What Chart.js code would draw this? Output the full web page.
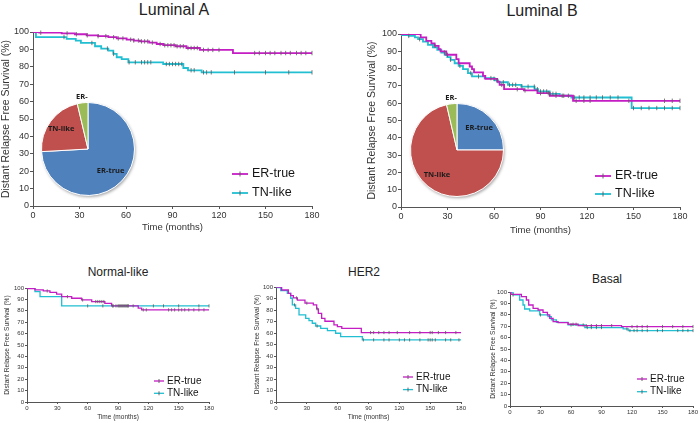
<!DOCTYPE html>
<html>
<head>
<meta charset="utf-8">
<script src="https://cdn.jsdelivr.net/npm/chart.js@4.4.0/dist/chart.umd.min.js"></script>
<style>
body { margin: 0; background: #fff; }
#fig { position: relative; width: 700px; height: 423px; overflow: hidden; background: #fff;
       font-family: "Liberation Sans", Arial, sans-serif; }
canvas { position: absolute; }
.pie { z-index: 2; }
.titulo { position: absolute; transform: translate(-50%, -50%); white-space: nowrap; color: #222; }
</style>
</head>
<body>
<div id="fig">
  <div class="titulo" style="left:174px; top:10px; font-size:16px;">Luminal A</div>
  <div class="titulo" style="left:542px; top:11px; font-size:16px;">Luminal B</div>
  <div class="titulo" style="left:118px; top:272px; font-size:12px;">Normal-like</div>
  <div class="titulo" style="left:364px; top:272px; font-size:12px;">HER2</div>
  <div class="titulo" style="left:607px; top:279px; font-size:12px;">Basal</div>
  <canvas id="kmLumA"></canvas>
  <canvas id="kmLumB"></canvas>
  <canvas id="kmNormal"></canvas>
  <canvas id="kmHer2"></canvas>
  <canvas id="kmBasal"></canvas>
  <canvas id="pieLumA" class="pie"></canvas>
  <canvas id="pieLumB" class="pie"></canvas>
</div>
<script>
/* Ejes y etiquetas */
const xTicks = [0, 30, 60, 90, 120, 150, 180];
const yTicks = [0, 10, 20, 30, 40, 50, 60, 70, 80, 90, 100];
const etiquetas = ['ER-true', 'TN-like'];
const pieLabels = ['ER-true', 'TN-like', 'ER-'];

/* Tortas (porcentaje de pacientes) */
const pieLumA = [74.1, 22.2, 3.7];
const pieLumB = [25.0, 71.4, 3.6];

/* Curvas de Kaplan-Meier: tiempo (meses) y supervivencia (%) tras cada evento */
const lumA_er_t = [0, 4, 18.5, 27, 34.6, 42, 48.6, 54, 60.4, 65, 69, 75, 79.8, 84, 92, 99, 107.7, 129, 180];
const lumA_er_s = [100, 99.6, 99.2, 98.7, 98.1, 97.6, 97.0, 96.3, 95.6, 95.1, 94.6, 93.9, 93.1, 92.4, 91.8, 90.8, 89.7, 87.9, 87.9];
const lumA_er_c = [5, 22, 28, 35, 42, 47, 52, 55, 58, 63, 65, 68, 70, 72, 74, 77, 82, 85, 87, 89, 91, 93, 95, 97, 100, 102, 104, 106, 110, 113, 116, 120, 143, 146, 150, 153, 156, 160, 163, 166, 170, 173, 176, 180];
const lumA_tn_t = [0, 1.9, 21.7, 27.6, 30.9, 40, 44, 48.6, 51.8, 54, 57.2, 61.5, 84, 97, 100, 108.8, 180];
const lumA_tn_s = [100, 97.1, 96.0, 95.0, 93.7, 91.8, 90.5, 89.3, 87.4, 85.5, 84.4, 82.6, 81.6, 79.3, 78.0, 76.8, 76.8];
const lumA_tn_c = [20, 38, 48, 52, 62, 66, 70, 72, 74, 76, 86, 88, 90, 92, 94, 96, 102, 104, 110, 112, 115, 130, 150, 165, 180];

const lumB_er_t = [0, 12.7, 16.3, 19.6, 21.7, 24.3, 25.5, 29.2, 35.7, 37.2, 44.3, 45.8, 47.1, 52.9, 54.4, 62.1, 63.6, 66.5, 79.3, 88, 96, 111, 180];
const lumB_er_s = [100, 98.1, 96.0, 94.6, 93.1, 91.2, 89.9, 88.0, 85.5, 83.1, 81.2, 79.7, 77.8, 75.8, 74.1, 72.5, 70.6, 68.1, 67.4, 65.8, 64.3, 61.4, 61.4];
const lumB_er_c = [22, 30, 60, 65, 75, 80, 90, 95, 100, 105, 113, 118, 122, 147, 170, 175, 180];
const lumB_tn_t = [0, 0.5, 5, 9, 11, 14.2, 17.4, 20.6, 23.4, 26, 28.2, 29.9, 32, 34.6, 37.2, 40, 43.2, 45.8, 54, 60.4, 62.6, 69, 77.6, 86.2, 88.4, 95.9, 102.4, 109.9, 148.8, 180];
const lumB_tn_s = [100, 99.4, 98.9, 98.1, 97.0, 95.6, 93.7, 92.3, 90.8, 89.3, 88.0, 86.6, 85.1, 83.1, 81.6, 79.7, 77.4, 75.5, 74.5, 73.2, 72.1, 70.6, 69.6, 68.1, 66.8, 65.4, 64.3, 63.3, 57.2, 57.2];
const lumB_tn_c = [5, 12, 28, 32, 38, 45, 50, 58, 62, 66, 70, 72, 74, 78, 82, 86, 88, 90, 92, 94, 96, 98, 100, 104, 108, 112, 115, 118, 122, 126, 130, 135, 140, 150, 155, 160, 165, 170, 175, 180];

const norm_er_t = [0, 1, 7.9, 16.1, 22.7, 29.3, 34.3, 44.2, 54, 64, 77, 83.7, 110, 113.4, 180];
const norm_er_s = [100, 99.4, 98.3, 97.4, 96.2, 94.7, 92.4, 91.0, 89.5, 88.1, 86.6, 84.3, 82.3, 80.8, 80.8];
const norm_er_c = [20, 40, 55, 68, 70, 72, 74, 76, 85, 88, 90, 91, 92, 93, 94, 95, 96, 97, 98, 99, 100, 105, 115, 118, 140, 143, 146, 150, 153, 156, 160, 165, 170, 175];
const norm_tn_t = [0, 7.9, 12.9, 34.3, 180];
const norm_tn_s = [100, 96.8, 92.4, 84.3, 84.3];
const norm_tn_c = [60, 75, 85, 100, 125, 135, 150, 170, 180];

const her2_er_t = [0, 5.5, 12, 14.3, 16.9, 20.8, 28.2, 36.3, 39.6, 41.2, 44.4, 47.6, 56.4, 59.7, 64, 83, 180];
const her2_er_s = [100, 97.4, 94.5, 92.5, 90.5, 88.6, 86.0, 84.4, 81.0, 77.0, 72.8, 70.2, 67.0, 65.5, 64.0, 60.4, 60.4];
const her2_er_c = [20, 30, 40, 92, 95, 100, 105, 110, 118, 130, 140, 150, 152, 158, 165, 175];
const her2_tn_t = [0, 1, 4.5, 11, 14.3, 15.9, 19.1, 22.4, 28.9, 32.1, 35.3, 38.6, 43.5, 50, 58, 62.9, 84, 180];
const her2_tn_s = [100, 99.4, 96.8, 94.5, 90.2, 84.4, 81.5, 75.7, 72.8, 70.8, 68.5, 66.1, 64.1, 62.1, 59.8, 56.9, 54.0, 54.0];
const her2_tn_c = [18, 40, 85, 95, 105, 110, 120, 125, 130, 140, 148, 150, 152, 155, 165, 170, 178];

const bas_er_t = [0, 1, 11.2, 16.1, 18.4, 22.7, 27.6, 32.5, 36.8, 39.1, 42.4, 47.3, 57.1, 67, 109.7, 180];
const bas_er_s = [100, 98.0, 95.9, 93.0, 88.6, 85.7, 84.2, 82.2, 79.9, 76.9, 74.0, 73.1, 71.7, 70.5, 69.7, 69.7];
const bas_er_c = [62, 65, 75, 80, 85, 90, 100, 120, 125, 130, 135, 150, 160, 170, 180];
const bas_tn_t = [0, 3, 9.5, 12.8, 14.4, 19.4, 29.2, 37.4, 40.7, 45.6, 57.1, 73.6, 111.3, 116.3, 180];
const bas_tn_s = [100, 97.4, 93.0, 88.6, 85.1, 83.4, 79.9, 78.4, 75.5, 73.4, 71.1, 68.8, 67.6, 66.2, 66.2];
const bas_tn_c = [3, 30, 60, 72, 76, 80, 85, 90, 115, 118, 122, 125, 130, 135, 145, 150, 165, 170, 175, 180];

/* Estilo */
const familia = '"Liberation Sans", Arial, sans-serif';
const colorER = '#c41dc4';
const colorTN = '#21bfd1';
const colorCenso = '#5a5a5a';
Chart.defaults.font.family = familia;

function escalon(t, s) {
    return t.map((v, i) => ({x: v, y: s[i]}));
}

// marca de censura sobre la curva
function censura(c, t, s) {
    return c.map(v => {
        let k = 0;
        while (k + 1 < t.length && t[k + 1] <= v) k++;
        return {x: v, y: s[k]};
    });
}

// Leyenda dentro del área del gráfico
const leyendaKM = {
    id: 'leyendaKM',
    afterDraw(chart, args, o) {
        const ctx = chart.ctx;
        ctx.save();
        ctx.font = o.size + 'px ' + familia;
        ctx.textBaseline = 'middle';
        for (let i = 0; i < 2; i++) {
            const ds = chart.data.datasets[i];
            const y = o.y + i * o.gap;
            ctx.strokeStyle = ds.borderColor;
            ctx.lineWidth = ds.borderWidth;
            ctx.beginPath(); ctx.moveTo(o.x, y); ctx.lineTo(o.x + o.len, y); ctx.stroke();
            ctx.strokeStyle = colorCenso;
            ctx.lineWidth = 0.9;
            ctx.beginPath(); ctx.moveTo(o.x + o.len / 2, y - o.tick); ctx.lineTo(o.x + o.len / 2, y + o.tick); ctx.stroke();
            ctx.fillStyle = '#151515';
            ctx.fillText(ds.label, o.x + o.len + o.pad, y);
        }
        ctx.restore();
    }
};

function crearKM(id, c, er, tn, ley) {
    const cv = document.getElementById(id);
    cv.width = c.W; cv.height = c.H;
    cv.style.left = c.L + 'px'; cv.style.top = c.T + 'px';
    const anchoY = c.left - c.L;
    const altoX = c.T + c.H - c.bottom;
    const ejeComun = {
        grid: {drawOnChartArea: false, tickLength: c.tl, color: '#555', lineWidth: 1},
        border: {color: '#555', width: 1},
    };
    new Chart(cv, {
        type: 'line',
        data: {
            datasets: [
                {label: etiquetas[0], data: escalon(er.t, er.s), stepped: true, borderColor: colorER, borderWidth: c.lw, pointRadius: 0, fill: false, order: 1},
                {label: etiquetas[1], data: escalon(tn.t, tn.s), stepped: true, borderColor: colorTN, borderWidth: c.lw, pointRadius: 0, fill: false, order: 2},
                {data: censura(er.c, er.t, er.s), showLine: false, pointStyle: 'line', rotation: 90, pointRadius: c.cr, borderColor: colorCenso, borderWidth: 0.8, order: 0, clip: 4},
                {data: censura(tn.c, tn.t, tn.s), showLine: false, pointStyle: 'line', rotation: 90, pointRadius: c.cr, borderColor: colorCenso, borderWidth: 0.8, order: 0, clip: 4}
            ]
        },
        options: {
            responsive: false,
            animation: false,
            events: [],
            layout: {padding: {top: c.top - c.T, right: c.L + c.W - c.right, left: 0, bottom: 0}},
            plugins: {legend: {display: false}, tooltip: {enabled: false}, leyendaKM: ley},
            scales: {
                x: Object.assign({}, ejeComun, {
                    type: 'linear', min: 0, max: 180,
                    afterBuildTicks: s => { s.ticks = xTicks.map(v => ({value: v})); },
                    afterFit: s => { s.height = altoX; },
                    ticks: {font: {size: c.fs}, color: '#333', padding: 1, maxRotation: 0, autoSkip: false},
                    title: {display: c.xt, text: 'Time (months)', font: {size: c.xs}, color: '#333', padding: 0}
                }),
                y: Object.assign({}, ejeComun, {
                    type: 'linear', min: 0, max: 100,
                    afterBuildTicks: s => { s.ticks = yTicks.map(v => ({value: v})); },
                    afterFit: s => { s.width = anchoY; },
                    ticks: {font: {size: c.fs}, color: '#333', padding: 1, autoSkip: false},
                    title: {display: true, text: 'Distant Relapse Free Survival (%)', font: {size: c.ys}, color: '#333', padding: 0}
                })
            }
        },
        plugins: [leyendaKM]
    });
}

// sombra suave bajo la torta
const sombraPie = {
    id: 'sombraPie',
    beforeDatasetsDraw(chart) {
        const a = chart.getDatasetMeta(0).data[0];
        const ctx = chart.ctx;
        ctx.save();
        ctx.shadowColor = 'rgba(0,0,0,0.35)';
        ctx.shadowBlur = 3;
        ctx.shadowOffsetX = 1;
        ctx.shadowOffsetY = 1.5;
        ctx.fillStyle = '#fff';
        ctx.beginPath(); ctx.arc(a.x, a.y, a.outerRadius, 0, Math.PI * 2); ctx.fill();
        ctx.restore();
    }
};

const etiquetasPie = {
    id: 'etiquetasPie',
    afterDatasetsDraw(chart, args, o) {
        const ctx = chart.ctx;
        ctx.save();
        ctx.font = 'bold 7.5px "Open Sans", ' + familia;
        ctx.fillStyle = '#1b1b1b';
        ctx.textAlign = 'center';
        ctx.textBaseline = 'middle';
        chart.getDatasetMeta(0).data.forEach((a, i) => {
            const mid = (a.startAngle + a.endAngle) / 2;
            const r = a.outerRadius * o.radios[i];
            ctx.fillText(chart.data.labels[i], a.x + Math.cos(mid) * r, a.y + Math.sin(mid) * r);
        });
        ctx.restore();
    }
};

function crearPie(id, cx, cy, r, valores, radios) {
    const m = 24;
    const cv = document.getElementById(id);
    cv.width = 2 * (r + m); cv.height = 2 * (r + m);
    cv.style.left = (cx - r - m) + 'px'; cv.style.top = (cy - r - m) + 'px';
    new Chart(cv, {
        type: 'pie',
        data: {
            labels: pieLabels,
            datasets: [{data: valores, backgroundColor: ['#4f81bd', '#c0504d', '#9bbb59'], borderColor: '#ffffff', borderWidth: 1}]
        },
        options: {
            responsive: false, animation: false, events: [],
            layout: {padding: m},
            plugins: {legend: {display: false}, tooltip: {enabled: false}, etiquetasPie: {radios: radios}}
        },
        plugins: [sombraPie, etiquetasPie]
    });
}

const grande = {tl: 3, fs: 9, ys: 10.5, xs: 9.5, lw: 1.8, cr: 2.2, xt: true};
const chico = {tl: 2, fs: 6, ys: 6.6, xs: 6.5, lw: 1.3, cr: 1.6, xt: true};

crearKM('kmLumA', Object.assign({L: 0, T: 20, W: 335, H: 213, left: 33, top: 32, right: 312, bottom: 206}, grande),
    {t: lumA_er_t, s: lumA_er_s, c: lumA_er_c}, {t: lumA_tn_t, s: lumA_tn_s, c: lumA_tn_c},
    {x: 232, y: 154, gap: 19, len: 16, pad: 4, size: 12.5, tick: 2.5});
crearKM('kmLumB', Object.assign({L: 366, T: 20, W: 334, H: 216, left: 401, top: 34, right: 680, bottom: 207}, grande),
    {t: lumB_er_t, s: lumB_er_s, c: lumB_er_c}, {t: lumB_tn_t, s: lumB_tn_s, c: lumB_tn_c},
    {x: 229, y: 156, gap: 18, len: 16, pad: 4, size: 12.5, tick: 2.5});
crearKM('kmNormal', Object.assign({L: 3, T: 278, W: 222, H: 143, left: 27, top: 288, right: 209, bottom: 402}, chico),
    {t: norm_er_t, s: norm_er_s, c: norm_er_c}, {t: norm_tn_t, s: norm_tn_s, c: norm_tn_c},
    {x: 151, y: 103, gap: 12.3, len: 10, pad: 3, size: 10, tick: 2});
crearKM('kmHer2', Object.assign({L: 253, T: 277, W: 223, H: 144, left: 276, top: 287, right: 461, bottom: 402}, chico),
    {t: her2_er_t, s: her2_er_s, c: her2_er_c}, {t: her2_tn_t, s: her2_tn_s, c: her2_tn_c},
    {x: 150, y: 100, gap: 12.6, len: 10, pad: 3, size: 10, tick: 2});
crearKM('kmBasal', Object.assign({L: 489, T: 282, W: 211, H: 141, left: 510, top: 292, right: 693, bottom: 406}, chico, {xt: false}),
    {t: bas_er_t, s: bas_er_s, c: bas_er_c}, {t: bas_tn_t, s: bas_tn_s, c: bas_tn_c},
    {x: 148, y: 97, gap: 12.7, len: 10, pad: 3, size: 10, tick: 2});

crearPie('pieLumA', 88, 149, 47, pieLumA, [0.67, 0.72, 1.13]);
crearPie('pieLumB', 457, 150, 47, pieLumB, [0.67, 0.69, 1.13]);
</script>
</body>
</html>
